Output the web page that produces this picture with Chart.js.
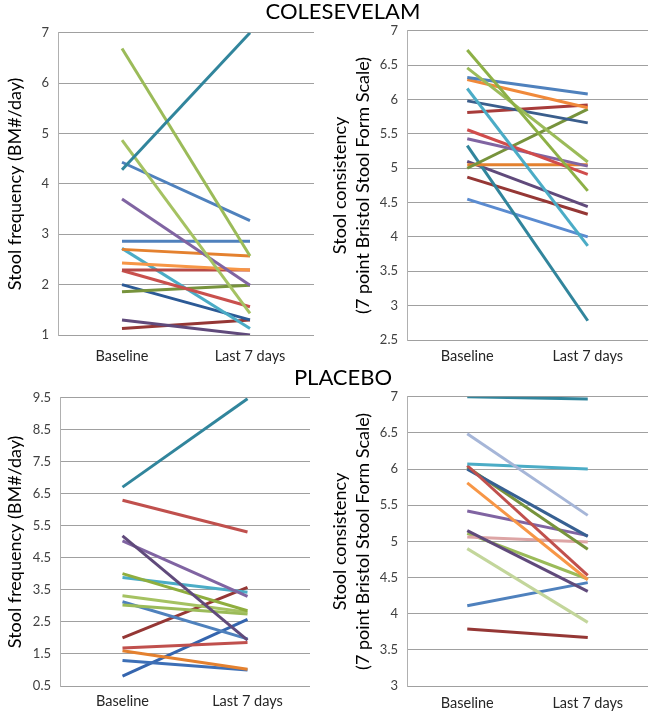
<!DOCTYPE html>
<html>
<head>
<meta charset="utf-8">
<script src="https://cdn.jsdelivr.net/npm/chart.js@4.4.1/dist/chart.umd.min.js"></script>
<style>
  body { margin: 0; width: 654px; height: 713px; background: #fff; position: relative; overflow: hidden; font-family: Lato, sans-serif; }
  canvas { position: absolute; }
  .group-title { position: absolute; width: 240px; text-align: center; font-size: 22px; color: #000; line-height: 1; }
</style>
</head>
<body>
<canvas id="colFreq" width="325" height="354" style="left:0; top:16px;"></canvas>
<canvas id="colCons" width="329" height="354" style="left:325px; top:14px;"></canvas>
<canvas id="plaFreq" width="325" height="332" style="left:0; top:381px;"></canvas>
<canvas id="plaCons" width="329" height="333" style="left:325px; top:380px;"></canvas>
<div class="group-title" style="left:223px; top:0px;">COLESEVELAM</div>
<div class="group-title" style="left:223px; top:366px;">PLACEBO</div>
<script>
const categories = ['Baseline', 'Last 7 days'];

// tick labels for each y axis
const freqTicksCol = [1, 2, 3, 4, 5, 6, 7];
const consTicksCol = [2.5, 3, 3.5, 4, 4.5, 5, 5.5, 6, 6.5, 7];
const freqTicksPla = [0.5, 1.5, 2.5, 3.5, 4.5, 5.5, 6.5, 7.5, 8.5, 9.5];
const consTicksPla = [3, 3.5, 4, 4.5, 5, 5.5, 6, 6.5, 7];

// Colesevelam - stool frequency (one value per patient)
const colFreqBaseline = [4.28, 6.69, 4.87, 4.43, 3.70, 2.86, 2.70, 2.43, 2.29, 2.28, 2.72, 1.86, 2.00, 1.30, 1.13];
const colFreqLast     = [7.00, 2.57, 1.43, 3.27, 1.99, 2.86, 2.57, 2.29, 2.29, 1.56, 1.13, 1.99, 1.30, 1.00, 1.30];
const colFreqColors = ['#31859C', '#9BBB59', '#A5C262', '#4F81BD', '#8064A2', '#4F81BD', '#E4812F', '#F79646',
  '#B84A47', '#C9504D', '#4BACC6', '#77933C', '#2C5A96', '#604A7B', '#953735'];

// Colesevelam - stool consistency
const colConsBaseline = [6.72, 6.46, 6.32, 6.29, 6.16, 5.98, 5.81, 5.56, 5.43, 5.00, 5.05, 5.33, 5.10, 4.87, 4.55];
const colConsLast     = [4.67, 5.09, 6.08, 5.88, 3.87, 5.66, 5.92, 4.91, 5.03, 5.86, 5.05, 2.78, 4.44, 4.33, 4.00];
const colConsColors = ['#8DB046', '#9BBB59', '#4F81BD', '#F0893A', '#4BACC6', '#3B5E8C', '#A83C3A', '#D04C4C',
  '#8064A2', '#77933C', '#E4812F', '#31859C', '#604A7B', '#953735', '#5A8BD0'];

// Placebo - stool frequency
const plaFreqBaseline = [6.71, 6.30, 5.19, 5.03, 4.01, 3.89, 3.32, 3.03, 3.13, 2.00, 1.69, 1.60, 1.30, 0.81];
const plaFreqLast     = [9.47, 5.31, 1.93, 3.30, 2.85, 3.43, 2.80, 2.75, 1.97, 3.58, 1.86, 1.02, 1.00, 2.58];
const plaFreqColors = ['#31859C', '#C0504D', '#604A7B', '#8064A2', '#8FAE3E', '#4BACC6', '#A5C262', '#9BBB59',
  '#4F81BD', '#953735', '#C0504D', '#E4812F', '#3D6FB6', '#3565AE'];

// Placebo - stool consistency
const plaConsBaseline = [7.00, 6.49, 6.07, 6.05, 6.00, 6.03, 5.81, 5.42, 5.15, 5.06, 5.11, 4.90, 4.11, 3.79];
const plaConsLast     = [6.97, 5.36, 6.00, 4.53, 5.07, 4.89, 4.47, 5.08, 4.31, 4.99, 4.48, 3.88, 4.43, 3.67];
const plaConsColors = ['#31859C', '#A6B6D8', '#4BACC6', '#C0504D', '#376092', '#77933C', '#F79646', '#8064A2',
  '#604A7B', '#DDA5A5', '#9BBB59', '#C3D69B', '#4F81BD', '#953735'];

function makePanel(id, baseline, last, colors, yTicks, yTitle, geo) {
  const datasets = baseline.map((v, i) => ({
    data: [v, last[i]],
    borderColor: colors[i],
    borderWidth: 3,
    pointRadius: 0,
    tension: 0,
    fill: false
  }));

  new Chart(document.getElementById(id), {
    type: 'line',
    data: { labels: categories, datasets: datasets },
    options: {
      responsive: false,
      animation: false,
      layout: { padding: { top: 0, right: geo.right, bottom: 0, left: 0 } },
      plugins: { legend: { display: false }, tooltip: { enabled: false } },
      scales: {
        x: {
          offset: true,
          grid: { display: false, drawTicks: false },
          border: { display: false },
          ticks: { color: '#262626', font: { family: 'Lato', size: 14.5 }, padding: geo.labelPad, maxRotation: 0 },
          afterFit: s => { s.height = geo.xHeight; }
        },
        y: {
          min: yTicks[0],
          max: yTicks[yTicks.length - 1],
          afterBuildTicks: s => { s.ticks = yTicks.map(v => ({ value: v })); },
          grid: { color: '#a0a0a0', drawTicks: false },
          border: { color: '#b0b0b0' },
          ticks: { color: '#404040', font: { family: 'Lato', size: 13 }, padding: 9, callback: v => String(v) },
          title: { display: true, text: yTitle, color: '#000', font: { family: 'Lato', size: 18, lineHeight: 1.25 }, padding: { top: 4, bottom: 0 } },
          afterFit: s => { s.width = geo.axisWidth; }
        }
      }
    }
  });
}

makePanel('colFreq', colFreqBaseline, colFreqLast, colFreqColors, freqTicksCol,
  'Stool frequency (BM#/day)', { right: 11, axisWidth: 58, xHeight: 35, labelPad: 13 });
makePanel('colCons', colConsBaseline, colConsLast, colConsColors, consTicksCol,
  ['Stool consistency', '(7 point Bristol Stool Form Scale)'], { right: 6, axisWidth: 82, xHeight: 28, labelPad: 8 });
makePanel('plaFreq', plaFreqBaseline, plaFreqLast, plaFreqColors, freqTicksPla,
  'Stool frequency (BM#/day)', { right: 15, axisWidth: 60, xHeight: 27, labelPad: 7 });
makePanel('plaCons', plaConsBaseline, plaConsLast, plaConsColors, consTicksPla,
  ['Stool consistency', '(7 point Bristol Stool Form Scale)'], { right: 6, axisWidth: 82, xHeight: 27, labelPad: 9 });
</script>
</body>
</html>
